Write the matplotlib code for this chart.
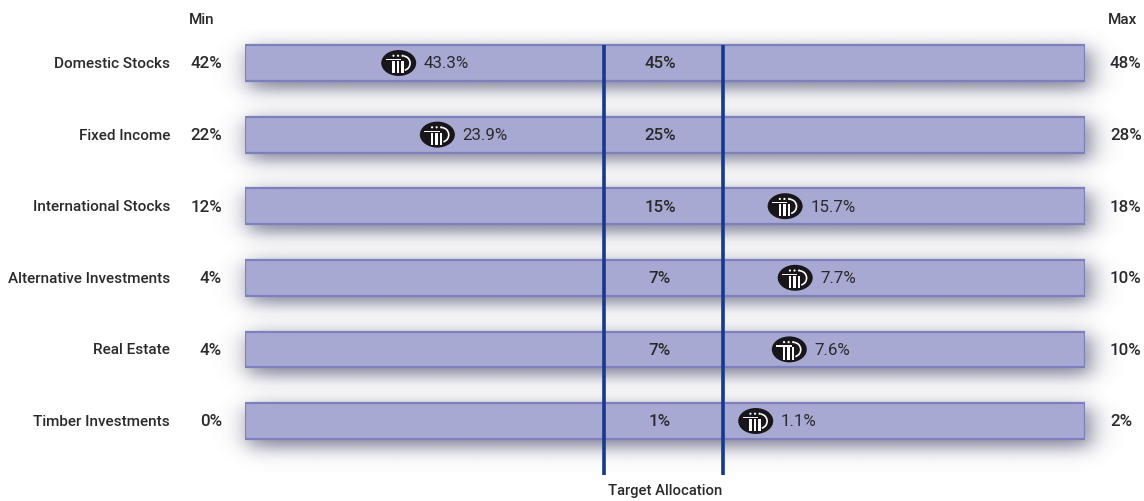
#!/usr/bin/env python3
"""
Asset allocation ranges: min, target and max per asset class.
"""

import numpy as np
import matplotlib
matplotlib.use('Agg')
import matplotlib.pyplot as plt
from matplotlib.offsetbox import AnnotationBbox, DrawingArea
from matplotlib.patches import Ellipse, Rectangle, Circle, Wedge

categories = ['Domestic Stocks', 'Fixed Income', 'International Stocks',
              'Alternative Investments', 'Real Estate', 'Timber Investments']
min_labels = ['42%', '22%', '12%', '4%', '4%', '0%']
target_labels = ['45%', '25%', '15%', '7%', '7%', '1%']
max_labels = ['48%', '28%', '18%', '10%', '10%', '2%']
actual_labels = ['43.3%', '23.9%', '15.7%', '7.7%', '7.6%', '1.1%']
# where the logo sits along each bar, in percent of the bar length
actual_pos = [18.3, 22.9, 64.3, 65.5, 64.8, 60.8]
target_band = [42.7, 56.9]

plt.rcParams['font.family'] = ['Roboto', 'DejaVu Sans']
TEXT = '#2a2a2c'
FS_LABEL = 11
FS_VALUE = 12.2


def soft_edge(u, lo, hi, sigma):
    # smooth box profile, used for the drop shadow
    return 0.5 * (np.tanh((u - lo) / sigma) - np.tanh((u - hi) / sigma))


def draw_shadow(ax, row):
    xs = np.linspace(-5, 105, 300)
    ys = np.linspace(row - 0.48, row + 0.72, 140)
    alpha = np.outer(soft_edge(ys, row - 0.20, row + 0.36, 0.15), soft_edge(xs, 0.2, 100.9, 1.7))
    img = np.zeros((len(ys), len(xs), 4))
    img[..., :3] = np.array([92, 92, 124]) / 255
    img[..., 3] = alpha * 0.8
    ax.imshow(img, extent=(xs[0], xs[-1], ys[-1], ys[0]), aspect='auto', zorder=1,
              clip_on=False, interpolation='bilinear')


def make_logo():
    # sizes are in points: 35x26 px at dpi 100
    da = DrawingArea(25.2, 18.7, 0, 0)
    da.add_artist(Ellipse((12.6, 9.35), 25.2, 18.7, color='#18161a', lw=0))
    # swoosh across the top
    da.add_artist(Rectangle((3.2, 11.3), 11, 1.0, color='white', lw=0))
    da.add_artist(Wedge((15.6, 9.2), 5.8, -75, 85, width=1.2, color='white', lw=0))
    for cx in (8.8, 12.1, 15.4):
        da.add_artist(Circle((cx, 14.6), 0.8, color='white', lw=0))
        da.add_artist(Rectangle((cx - 0.85, 2.0), 1.7, 8.8, color='white', lw=0))
    return da


def side_text(ax, s, row, dx, ha='left', size=FS_LABEL):
    # text placed at a pixel offset from the left edge of the bar
    ax.annotate(s, xy=(0, row), xytext=(dx, 0), textcoords='offset pixels',
                ha=ha, va='center', fontsize=size, color=TEXT, weight='medium',
                annotation_clip=False)


def main():
    fig = plt.figure(figsize=(11.44, 5.02), dpi=100)
    ax = fig.add_axes([245 / 1144, 1 - 457.8 / 502, 840 / 1144, 429.6 / 502])
    rows = np.arange(len(categories))

    for row in rows:
        draw_shadow(ax, row)

    ax.barh(rows, [100] * len(rows), left=0, height=0.5, color='#a7a9d2',
            edgecolor='#7c80bb', linewidth=1.6, zorder=2)

    ax.vlines(target_band, -0.25, 5.75, color='#17398b', linewidth=2.6, zorder=3, clip_on=False)

    for row in rows:
        side_text(ax, categories[row], row, -75, ha='right')
        side_text(ax, min_labels[row], row, -23, ha='right', size=FS_VALUE)
        side_text(ax, max_labels[row], row, 865, size=FS_VALUE)
        ax.text(49.4, row, target_labels[row], ha='center', va='center', fontsize=FS_VALUE,
                color=TEXT, weight='medium', zorder=4)
        ab = AnnotationBbox(make_logo(), (actual_pos[row], row), frameon=False,
                            pad=0, zorder=4)
        ax.add_artist(ab)
        ax.annotate(actual_labels[row], xy=(actual_pos[row], row), xytext=(25, 0),
                    textcoords='offset pixels', ha='left', va='center', fontsize=FS_VALUE,
                    color=TEXT, zorder=4)

    side_text(ax, 'Min', -0.62, -56)
    side_text(ax, 'Max', -0.62, 863)
    ax.text(50, 5.97, 'Target Allocation', ha='center', va='center', fontsize=10.6,
            color=TEXT, weight='medium', clip_on=False)

    ax.set_xlim(0, 100)
    ax.set_ylim(5.5, -0.5)
    ax.axis('off')

    fig.savefig('out.png', dpi=100)
    plt.close(fig)


if __name__ == "__main__":
    main()
